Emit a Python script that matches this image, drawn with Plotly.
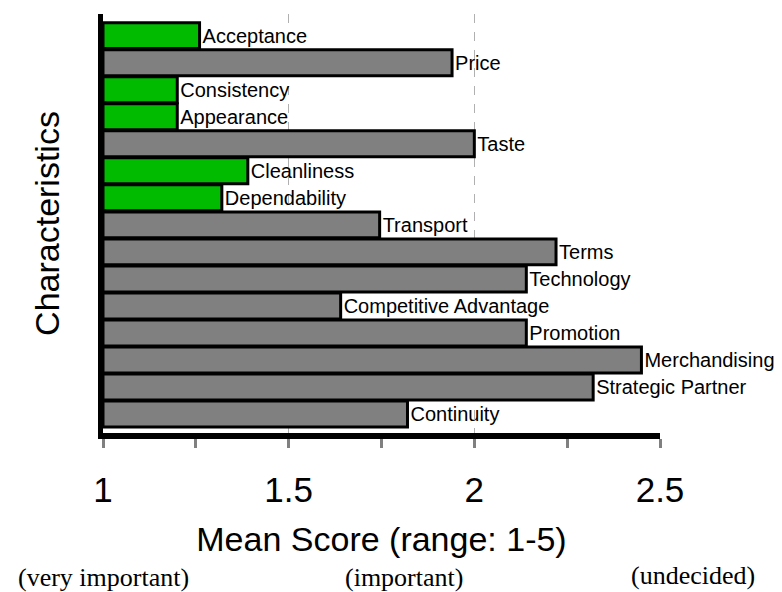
import plotly.graph_objects as go

categorias = ["Acceptance", "Price", "Consistency", "Appearance", "Taste",
              "Cleanliness", "Dependability", "Transport", "Terms", "Technology",
              "Competitive Advantage", "Promotion", "Merchandising",
              "Strategic Partner", "Continuity"]
medias = [1.26, 1.94, 1.20, 1.20, 2.00, 1.39, 1.32, 1.745, 2.22, 2.14,
          1.64, 2.14, 2.45, 2.32, 1.82]
grupo = ["g", "c", "g", "g", "c", "g", "g", "c", "c", "c", "c", "c", "c", "c", "c"]

notas = ["(very important)", "(important)", "(undecided)"]
notas_x = [0.0, 0.54, 1.06]
notas_y = [-0.346, -0.344, -0.339]

cores = {"g": "#00bb00", "c": "#808080"}

fig = go.Figure()
fig.add_trace(go.Bar(
    y=categorias,
    x=[m - 1 for m in medias],
    base=1,
    orientation='h',
    marker=dict(color=[cores[g] for g in grupo],
                line=dict(color='black', width=3)),
    text=categorias,
    textposition='outside',
    constraintext='none',
    cliponaxis=False,
    textfont=dict(size=20, family='Arial', color='black'),
    hoverinfo='x+y'
))

# a pagina tem margem de 8px no body, por isso 774x584
fig.update_layout(
    width=774, height=584,
    margin=dict(l=95, r=122, t=6, b=159),
    plot_bgcolor='white', paper_bgcolor='white',
    showlegend=False,
    bargap=0.04,
    font=dict(family='Arial', color='black'),
    xaxis=dict(
        range=[1, 2.5], automargin=False,
        tickmode='linear', dtick=0.5, tick0=1,
        tickfont=dict(size=35, family='Arial', color='black'),
        ticklabelstandoff=12,
        showgrid=True, gridcolor='#b0b0b0', griddash='dash', gridwidth=1,
        zeroline=False,
        showline=True, linecolor='black', linewidth=6,
        ticks='outside', ticklen=9, tickwidth=3, tickcolor='#808080',
        minor=dict(dtick=0.25, ticks='outside', ticklen=9, tickwidth=3,
                   tickcolor='#808080', showgrid=False),
        title=dict(text='Mean Score (range: 1-5)', standoff=21,
                   font=dict(size=34, family='Arial', color='black'))),
    yaxis=dict(
        range=[14.7, -0.8], automargin=False,
        showticklabels=False, ticks='',
        showgrid=False, zeroline=False,
        showline=True, linecolor='black', linewidth=5,
        title=dict(text='Characteristics', standoff=30,
                   font=dict(size=34, family='Arial', color='black')))
)

for texto, nx, ny in zip(notas, notas_x, notas_y):
    fig.add_annotation(text=texto, x=nx, y=ny, xref='paper', yref='paper',
                       xanchor='center', yanchor='middle', showarrow=False,
                       font=dict(size=26, family='Liberation Serif', color='black'))

fig.write_html("out.html")
